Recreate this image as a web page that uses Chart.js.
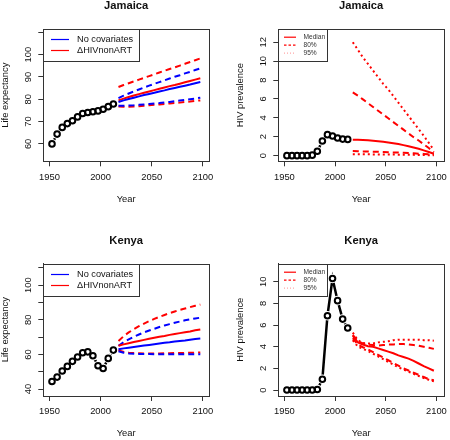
<!DOCTYPE html>
<html>
<head>
<meta charset="utf-8">
<script src="https://cdn.jsdelivr.net/npm/chart.js@4.4.1/dist/chart.umd.min.js"></script>
<style>
  html, body { margin: 0; padding: 0; background: #ffffff; }
  #wrap { position: relative; width: 450px; height: 440px; }
  canvas { position: absolute; left: 0; top: 0; }
</style>
</head>
<body>
<div id="wrap">
  <canvas id="c1" width="450" height="440"></canvas>
  <canvas id="c2" width="450" height="440"></canvas>
  <canvas id="c3" width="450" height="440"></canvas>
  <canvas id="c4" width="450" height="440"></canvas>
</div>
<script>
// ---------- DATA ----------
const histYears = [1952.5, 1957.5, 1962.5, 1967.5, 1972.5, 1977.5, 1982.5, 1987.5, 1992.5, 1997.5, 2002.5, 2007.5, 2012.5];
const projYears = [2017.5, 2022.5, 2027.5, 2032.5, 2037.5, 2042.5, 2047.5, 2052.5, 2057.5, 2062.5, 2067.5, 2072.5, 2077.5, 2082.5, 2087.5, 2092.5, 2097.5];

const xTicks = [1950, 2000, 2050, 2100];
const xTickLabels = ['1950', '2000', '2050', '2100'];

// Jamaica life expectancy
const jamLEHist = [60.0, 64.4, 67.4, 69.1, 70.4, 72.1, 73.6, 74.1, 74.4, 74.8, 75.5, 76.7, 77.9];
const jamLEBlueMed = [78.8, 79.5, 80.1, 80.7, 81.3, 81.9, 82.4, 82.9, 83.5, 84.0, 84.6, 85.1, 85.6, 86.1, 86.6, 87.2, 87.7];
const jamLERedMed = [79.5, 80.3, 81.0, 81.7, 82.3, 82.9, 83.5, 84.1, 84.7, 85.3, 85.9, 86.4, 87.0, 87.6, 88.2, 88.8, 89.4];
const jamLEBlueUp = [80.5, 81.6, 82.6, 83.5, 84.4, 85.3, 86.1, 86.9, 87.7, 88.5, 89.3, 90.1, 90.8, 91.6, 92.3, 93.1, 93.8];
const jamLERedUp = [85.5, 86.4, 87.2, 88.0, 88.8, 89.6, 90.4, 91.2, 92.0, 92.8, 93.6, 94.3, 95.1, 95.9, 96.7, 97.5, 98.3];
const jamLEBlueLo = [77.1, 77.1, 77.2, 77.3, 77.5, 77.7, 77.9, 78.1, 78.3, 78.6, 78.8, 79.1, 79.4, 79.7, 80.0, 80.3, 80.7];
const jamLERedLo = [76.8, 76.7, 76.7, 76.8, 76.9, 77.1, 77.3, 77.5, 77.7, 77.9, 78.1, 78.3, 78.5, 78.8, 79.0, 79.3, 79.5];
const jamLEYTicks = [60, 70, 80, 90, 100, 110];
const jamLEYLabels = ['60', '70', '80', '90', '100', ''];

// Jamaica HIV prevalence
const jamHIVHist = [0, 0, 0, 0, 0, 0.05, 0.46, 1.55, 2.22, 2.07, 1.87, 1.75, 1.72];
const jamHIVMed = [1.68, 1.67, 1.65, 1.62, 1.58, 1.53, 1.47, 1.40, 1.32, 1.22, 1.11, 0.99, 0.86, 0.72, 0.56, 0.39, 0.20];
const jamHIV80Up = [6.70, 6.35, 5.95, 5.55, 5.15, 4.75, 4.35, 3.95, 3.55, 3.15, 2.75, 2.35, 1.95, 1.60, 1.20, 0.80, 0.35];
const jamHIV95Up = [12.0, 11.2, 10.4, 9.7, 9.0, 8.3, 7.6, 7.0, 6.3, 5.6, 4.9, 4.2, 3.5, 2.8, 2.1, 1.35, 0.6];
const jamHIV80Lo = [0.48, 0.47, 0.45, 0.44, 0.42, 0.40, 0.38, 0.36, 0.34, 0.32, 0.30, 0.27, 0.24, 0.21, 0.18, 0.14, 0.10];
const jamHIV95Lo = [0.15, 0.15, 0.14, 0.14, 0.13, 0.13, 0.12, 0.12, 0.11, 0.10, 0.10, 0.09, 0.08, 0.07, 0.06, 0.05, 0.04];
const jamHIVYTicks = [0, 2, 4, 6, 8, 10, 12];
const jamHIVYLabels = ['0', '2', '4', '6', '8', '10', '12'];

// Kenya life expectancy
const kenLEHist = [44.4, 46.9, 50.4, 53.1, 56.0, 58.5, 61.0, 61.5, 59.2, 53.5, 51.9, 57.7, 62.5];
const kenLEBlueMed = [63.0, 63.5, 63.9, 64.3, 64.7, 65.1, 65.5, 65.9, 66.3, 66.7, 67.0, 67.4, 67.8, 68.1, 68.5, 68.9, 69.2];
const kenLERedMed = [65.0, 65.8, 66.5, 67.2, 67.8, 68.4, 69.0, 69.6, 70.2, 70.7, 71.3, 71.8, 72.3, 72.8, 73.3, 73.9, 74.4];
const kenLEBlueUp = [65.0, 67.0, 68.7, 70.2, 71.5, 72.7, 73.8, 74.8, 75.8, 76.7, 77.5, 78.3, 79.0, 79.7, 80.3, 80.8, 81.2];
const kenLERedUp = [67.8, 70.5, 72.7, 74.6, 76.3, 77.8, 79.2, 80.5, 81.7, 82.8, 83.8, 84.8, 85.7, 86.5, 87.3, 88.1, 88.8];
const kenLEBlueLo = [61.8, 61.0, 60.6, 60.4, 60.3, 60.2, 60.2, 60.1, 60.1, 60.1, 60.1, 60.1, 60.1, 60.1, 60.1, 60.1, 60.1];
const kenLERedLo = [62.5, 61.5, 61.0, 60.8, 60.7, 60.6, 60.6, 60.6, 60.6, 60.7, 60.7, 60.8, 60.8, 60.9, 60.9, 61.0, 61.1];
const kenLEYTicks = [40, 50, 60, 70, 80, 90, 100, 110];
const kenLEYLabels = ['40', '', '60', '', '80', '', '100', ''];

// Kenya HIV prevalence
const kenHIVHist = [0, 0, 0, 0, 0, 0, 0.05, 1.0, 6.86, 10.3, 8.25, 6.55, 5.72];
const kenHIVMed = [5.0, 4.4, 4.2, 4.05, 4.0, 3.85, 3.7, 3.55, 3.4, 3.2, 3.05, 2.9, 2.7, 2.45, 2.2, 2.0, 1.78];
const kenHIV80Up = [5.1, 4.5, 4.3, 4.2, 4.15, 4.1, 4.15, 4.2, 4.2, 4.25, 4.25, 4.2, 4.15, 4.1, 4.0, 3.9, 3.8];
const kenHIV95Up = [5.3, 4.6, 4.35, 4.3, 4.3, 4.4, 4.45, 4.5, 4.6, 4.65, 4.65, 4.65, 4.65, 4.65, 4.6, 4.6, 4.55];
const kenHIV80Lo = [4.8, 4.2, 3.95, 3.75, 3.5, 3.25, 3.0, 2.75, 2.5, 2.25, 2.0, 1.8, 1.6, 1.4, 1.2, 1.0, 0.9];
const kenHIV95Lo = [4.6, 4.0, 3.8, 3.6, 3.35, 3.1, 2.85, 2.6, 2.35, 2.1, 1.9, 1.7, 1.5, 1.3, 1.1, 0.95, 0.8];
const kenHIVYTicks = [0, 2, 4, 6, 8, 10];
const kenHIVYLabels = ['0', '2', '4', '6', '8', '10'];

const leLegend = ['No covariates', '\u0394HIVnonART'];
const hivLegend = ['Median', '80%', '95%'];

// ---------- HELPERS ----------
const BLUE = '#0000FF', RED = '#FF0000', AX = '#333333', TXT = '#111111';
const FONT = '"Liberation Sans", Arial, Helvetica, sans-serif';

function pts(xs, ys) { return xs.map((x, i) => ({ x: x, y: ys[i] })); }

function ringSet(ys) {
  return { data: pts(histYears, ys), showLine: false, borderColor: '#000', pointRadius: 2.8,
    pointBorderWidth: 2, pointBorderColor: '#000', pointBackgroundColor: 'rgba(0,0,0,0)' };
}
function maskSet(ys) {
  return { data: pts(histYears, ys), showLine: true, borderColor: '#000', borderWidth: 2.5,
    pointRadius: 4.8, pointBorderWidth: 0, pointBorderColor: '#fff', pointBackgroundColor: '#fff' };
}
function projSet(ys, color, dash) {
  return { data: pts(projYears, ys), borderColor: color, borderWidth: 2, borderDash: dash,
    pointRadius: 0, tension: 0, borderCapStyle: 'butt' };
}

const DASH = [6, 4];
const DOT = [2, 3];

function makePanel(canvasId, box, xr, yr, yTicks, yLabels, datasets, title, ytitle, legendKind) {
  const plugin = {
    id: 'rdecor_' + canvasId,
    afterDraw(chart) {
      const ctx = chart.ctx;
      const a = chart.chartArea;
      const xs = chart.scales.x, ys = chart.scales.y;
      ctx.save();
      // box
      ctx.strokeStyle = AX; ctx.lineWidth = 1;
      ctx.strokeRect(Math.round(a.left) + 0.5, Math.round(a.top) + 0.5,
        Math.round(a.right) - Math.round(a.left), Math.round(a.bottom) - Math.round(a.top));
      ctx.fillStyle = TXT;
      // x tick labels
      ctx.font = '9.4px ' + FONT;
      ctx.textAlign = 'center'; ctx.textBaseline = 'middle';
      xs.ticks.forEach((t, i) => {
        const lab = xTickLabels[xTicks.indexOf(t.value)];
        if (lab) ctx.fillText(lab, xs.getPixelForValue(t.value), a.bottom + 15.7);
      });
      // y tick labels (rotated)
      ys.ticks.forEach((t) => {
        const lab = yLabels[yTicks.indexOf(t.value)];
        if (!lab) return;
        ctx.save();
        ctx.translate(a.left - 15, ys.getPixelForValue(t.value));
        ctx.rotate(-Math.PI / 2);
        ctx.fillText(lab, 0, 0);
        ctx.restore();
      });
      // axis titles
      ctx.font = '9.4px ' + FONT;
      ctx.fillText('Year', (a.left + a.right) / 2, a.bottom + 37.7);
      ctx.save();
      ctx.translate(a.left - 37.5, (a.top + a.bottom) / 2);
      ctx.rotate(-Math.PI / 2);
      ctx.fillText(ytitle, 0, 0);
      ctx.restore();
      // main title
      ctx.font = 'bold 11.2px ' + FONT;
      ctx.fillText(title, (a.left + a.right) / 2, a.top - 23);
      // legend
      const L = Math.round(a.left) + 0.5, T = Math.round(a.top) + 0.5;
      if (legendKind === 'le') {
        ctx.fillStyle = '#fff';
        ctx.fillRect(L, T, 96, 32);
        ctx.strokeStyle = AX; ctx.lineWidth = 1;
        ctx.strokeRect(L, T, 96, 32);
        const cols = [BLUE, RED];
        const yy = [T + 10, T + 21];
        ctx.font = '9.2px ' + FONT; ctx.textAlign = 'left'; ctx.fillStyle = TXT;
        leLegend.forEach((s, i) => {
          ctx.strokeStyle = cols[i]; ctx.lineWidth = 1.2; ctx.setLineDash([]);
          ctx.beginPath(); ctx.moveTo(L + 7.5, yy[i]); ctx.lineTo(L + 25.5, yy[i]); ctx.stroke();
          ctx.fillText(s, L + 33.5, yy[i]);
        });
      } else {
        ctx.fillStyle = '#fff';
        ctx.fillRect(L, T, 49, 32);
        ctx.strokeStyle = AX; ctx.lineWidth = 1;
        ctx.strokeRect(L, T, 49, 32);
        const yy = [T + 7.7, T + 15.7, T + 23.7];
        const dashes = [[], [2.5, 2], [1, 2]];
        const cols = [RED, RED, 'rgba(255,0,0,0.35)'];
        ctx.font = '6.6px ' + FONT; ctx.textAlign = 'left';
        hivLegend.forEach((s, i) => {
          ctx.strokeStyle = cols[i]; ctx.lineWidth = 1.2; ctx.setLineDash(dashes[i]);
          ctx.beginPath(); ctx.moveTo(L + 5.5, yy[i]); ctx.lineTo(L + 17.5, yy[i]); ctx.stroke();
          ctx.fillStyle = '#333';
          ctx.fillText(s, L + 25, yy[i]);
        });
        ctx.setLineDash([]);
      }
      ctx.restore();
    }
  };

  const scaleCommon = {
    type: 'linear',
    grid: { display: true, drawOnChartArea: false, drawTicks: true, tickLength: 5, color: AX, tickColor: AX, lineWidth: 1 },
    border: { display: true, color: AX, width: 1 },
    ticks: { display: false }
  };

  return new Chart(document.getElementById(canvasId), {
    type: 'line',
    data: { datasets: datasets },
    options: {
      responsive: false,
      animation: false,
      devicePixelRatio: 1,
      events: [],
      layout: { padding: { left: box.L, right: 450 - box.R, top: box.T, bottom: 440 - box.B } },
      plugins: { legend: { display: false }, tooltip: { enabled: false }, title: { display: false } },
      elements: { line: { tension: 0 } },
      scales: {
        x: Object.assign({}, scaleCommon, {
          position: 'bottom', min: xr[0], max: xr[1],
          afterBuildTicks: (s) => { s.ticks = xTicks.map(v => ({ value: v })); },
          afterFit: (s) => { s.height = 0; }
        }),
        y: Object.assign({}, scaleCommon, {
          position: 'left', min: yr[0], max: yr[1],
          afterBuildTicks: (s) => { s.ticks = yTicks.map(v => ({ value: v })); },
          afterFit: (s) => { s.width = 0; }
        })
      }
    },
    plugins: [plugin]
  });
}

// ---------- PANELS ----------
makePanel('c1', { L: 43.3, R: 209, T: 29, B: 161.3 }, [1944, 2106], [52.2, 111.5],
  jamLEYTicks, jamLEYLabels, [
    ringSet(jamLEHist),
    projSet(jamLEBlueMed, BLUE, []),
    projSet(jamLERedMed, RED, []),
    projSet(jamLEBlueUp, BLUE, DASH),
    projSet(jamLERedUp, RED, DASH),
    projSet(jamLEBlueLo, BLUE, DASH),
    projSet(jamLERedLo, RED, DASH),
    maskSet(jamLEHist)
  ], 'Jamaica', 'Life expectancy', 'le');

makePanel('c2', { L: 278.3, R: 445.5, T: 29, B: 161.3 }, [1944, 2107.5], [-0.6, 13.4],
  jamHIVYTicks, jamHIVYLabels, [
    ringSet(jamHIVHist),
    projSet(jamHIVMed, RED, []),
    projSet(jamHIV80Up, RED, DASH),
    projSet(jamHIV80Lo, RED, DASH),
    projSet(jamHIV95Up, RED, DOT),
    projSet(jamHIV95Lo, RED, DOT),
    maskSet(jamHIVHist)
  ], 'Jamaica', 'HIV prevalence', 'hiv');

makePanel('c3', { L: 43.3, R: 209, T: 263.5, B: 396 }, [1944, 2106], [36.0, 112.5],
  kenLEYTicks, kenLEYLabels, [
    ringSet(kenLEHist),
    projSet(kenLEBlueMed, BLUE, []),
    projSet(kenLERedMed, RED, []),
    projSet(kenLEBlueUp, BLUE, DASH),
    projSet(kenLERedUp, RED, DASH),
    projSet(kenLEBlueLo, BLUE, DASH),
    projSet(kenLERedLo, RED, DASH),
    maskSet(kenLEHist)
  ], 'Kenya', 'Life expectancy', 'le');

makePanel('c4', { L: 278.3, R: 445.5, T: 263.5, B: 396 }, [1944, 2107.5], [-0.55, 11.68],
  kenHIVYTicks, kenHIVYLabels, [
    ringSet(kenHIVHist),
    projSet(kenHIVMed, RED, []),
    projSet(kenHIV80Up, RED, DASH),
    projSet(kenHIV80Lo, RED, DASH),
    projSet(kenHIV95Up, RED, DOT),
    projSet(kenHIV95Lo, RED, DOT),
    maskSet(kenHIVHist)
  ], 'Kenya', 'HIV prevalence', 'hiv');
</script>
</body>
</html>
